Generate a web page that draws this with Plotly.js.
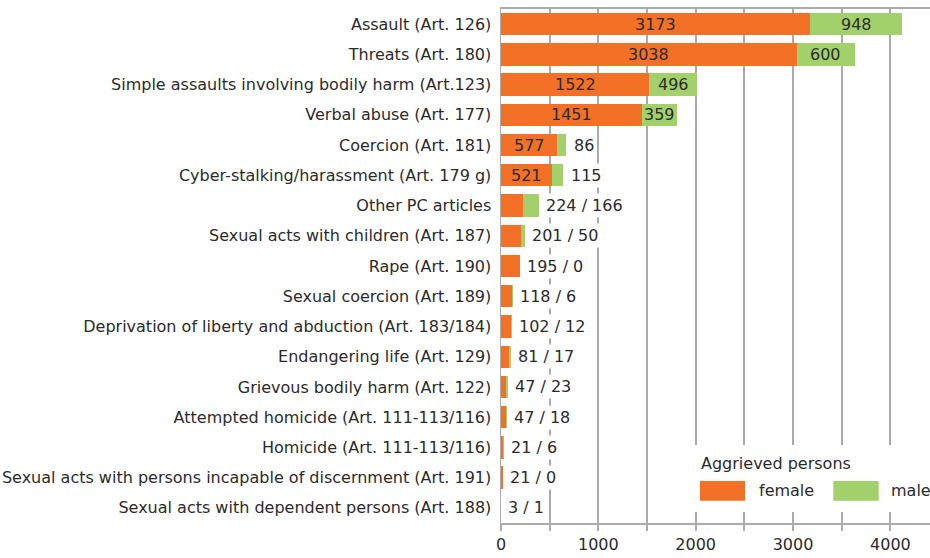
<!DOCTYPE html>
<html>
<head>
<meta charset="utf-8">
<script src="https://cdn.plot.ly/plotly-3.0.1.min.js"></script>
<style>html,body{margin:0;padding:0;background:#fff;}#chart{width:930px;height:558px;}</style>
</head>
<body>
<div id="chart"></div>
<script>
const categories = [
  "Assault (Art. 126)",
  "Threats (Art. 180)",
  "Simple assaults involving bodily harm (Art.123)",
  "Verbal abuse (Art. 177)",
  "Coercion (Art. 181)",
  "Cyber-stalking/harassment (Art. 179 g)",
  "Other PC articles",
  "Sexual acts with children (Art. 187)",
  "Rape (Art. 190)",
  "Sexual coercion (Art. 189)",
  "Deprivation of liberty and abduction (Art. 183/184)",
  "Endangering life (Art. 129)",
  "Grievous bodily harm (Art. 122)",
  "Attempted homicide (Art. 111-113/116)",
  "Homicide (Art. 111-113/116)",
  "Sexual acts with persons incapable of discernment (Art. 191)",
  "Sexual acts with dependent persons (Art. 188)"
];
const female = [3173, 3038, 1522, 1451, 577, 521, 224, 201, 195, 118, 102, 81, 47, 47, 21, 21, 3];
const male   = [948, 600, 496, 359, 86, 115, 166, 50, 0, 6, 12, 17, 23, 18, 6, 0, 1];
const tickValues = [0, 500, 1000, 1500, 2000, 2500, 3000, 3500, 4000];
const tickLabels = ["0", "", "1000", "", "2000", "", "3000", "", "4000"];
const seriesNames = ["female", "male"];
const legendTitle = "Aggrieved persons";

const ORANGE = "#f37027";
const GREEN = "#a2d06b";
const TXT = "#2b2b2b";
const FONT = "DejaVu Sans, sans-serif";
const FS = 16;

const traces = [
  {type: "bar", orientation: "h", name: seriesNames[0], y: categories, x: female,
   marker: {color: ORANGE}, hoverinfo: "x+y"},
  {type: "bar", orientation: "h", name: seriesNames[1], y: categories, x: male,
   marker: {color: GREEN}, hoverinfo: "x+y"}
];

const annotations = [];
categories.forEach((c, i) => {
  const f = female[i], m = male[i];
  if (m >= 300) {
    annotations.push({x: f / 2, y: c, xref: "x", yref: "y", text: String(f), showarrow: false,
      font: {size: FS, color: TXT, family: FONT}});
    annotations.push({x: f + m / 2, y: c, xref: "x", yref: "y", text: String(m), showarrow: false,
      font: {size: FS, color: TXT, family: FONT}});
  } else if (f >= 500) {
    annotations.push({x: f / 2, y: c, xref: "x", yref: "y", text: String(f), showarrow: false,
      font: {size: FS, color: TXT, family: FONT}});
    annotations.push({x: f + m, y: c, xref: "x", yref: "y", text: String(m), showarrow: false,
      xanchor: "left", xshift: 5, bgcolor: "#ffffff", borderpad: 2,
      font: {size: FS, color: TXT, family: FONT}});
  } else {
    annotations.push({x: f + m, y: c, xref: "x", yref: "y", text: f + " / " + m, showarrow: false,
      xanchor: "left", xshift: 4, bgcolor: "#ffffff", borderpad: 2,
      font: {size: FS, color: TXT, family: FONT}});
  }
});

// custom legend
annotations.push({xref: "paper", yref: "paper", x: 0.4615, y: 0.1167, xanchor: "left", yanchor: "middle",
  text: legendTitle, showarrow: false, font: {size: FS, color: TXT, family: FONT}});
annotations.push({xref: "paper", yref: "paper", x: 0.596, y: 0.0623, xanchor: "left", yanchor: "middle",
  text: seriesNames[0], showarrow: false, font: {size: FS, color: TXT, family: FONT}});
annotations.push({xref: "paper", yref: "paper", x: 0.9044, y: 0.0623, xanchor: "left", yanchor: "middle",
  text: seriesNames[1], showarrow: false, font: {size: FS, color: TXT, family: FONT}});

const shapes = [
  {type: "rect", xref: "paper", yref: "paper", x0: 0.4406, x1: 1.0, y0: 0.0214, y1: 0.1518,
   fillcolor: "#ffffff", line: {width: 0}, layer: "above"},
  {type: "rect", xref: "paper", yref: "paper", x0: 0.4639, x1: 0.5688, y0: 0.0434, y1: 0.0817,
   fillcolor: ORANGE, line: {width: 0}, layer: "above"},
  {type: "rect", xref: "paper", yref: "paper", x0: 0.7746, x1: 0.8804, y0: 0.0434, y1: 0.0817,
   fillcolor: GREEN, line: {width: 0}, layer: "above"}
];

const layout = {
  width: 930, height: 558,
  margin: {l: 501, r: 0, t: 9, b: 35, pad: 0},
  paper_bgcolor: "#ffffff", plot_bgcolor: "#ffffff",
  barmode: "stack", bargap: 0.26,
  showlegend: false,
  font: {family: FONT, size: FS, color: TXT},
  xaxis: {
    range: [0, 4407], tickmode: "array", tickvals: tickValues, ticktext: tickLabels,
    showgrid: true, gridcolor: "#ababab", gridwidth: 2,
    showline: true, linecolor: "#ababab", linewidth: 2, mirror: true,
    ticks: "outside", ticklen: 6, tickcolor: "#ababab", tickwidth: 2,
    tickfont: {size: FS, color: TXT, family: FONT}, zeroline: false, fixedrange: true
  },
  yaxis: {
    autorange: "reversed", type: "category",
    showline: true, linecolor: "#ababab", linewidth: 1.5,
    ticks: "", ticklabelstandoff: 5, showgrid: false,
    tickfont: {size: FS, color: TXT, family: FONT}, fixedrange: true
  },
  annotations: annotations,
  shapes: shapes
};

Plotly.newPlot("chart", traces, layout, {displayModeBar: false, staticPlot: true});
</script>
</body>
</html>
